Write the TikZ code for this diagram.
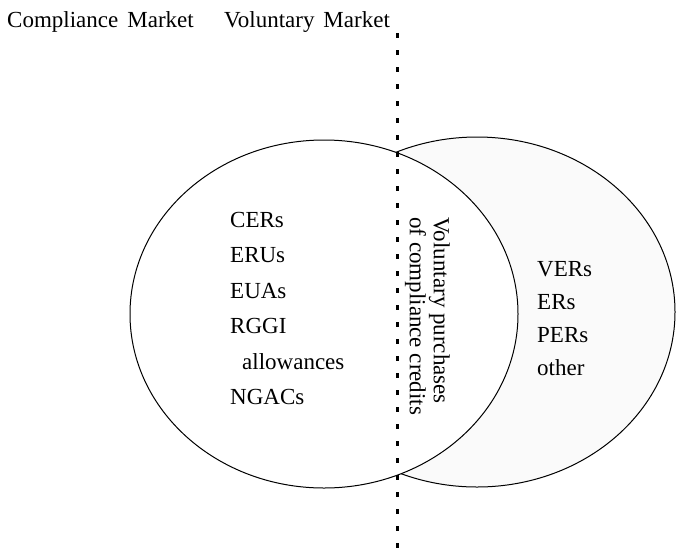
\documentclass[tikz,border=0pt]{standalone}
\usepackage{fontspec}
\setmainfont{Liberation Serif}
\usetikzlibrary{shapes.geometric}
\begin{document}
\begin{tikzpicture}[x=1pt,y=-1pt,
  market/.style={ellipse,draw=black,line width=1pt,inner sep=0pt},
  label/.style={font=\fontsize{23}{35.5}\selectfont,inner sep=0pt},
  listtext/.style={label,align=left,anchor=north west},
  divider/.style={line width=3pt,dash pattern=on 5pt off 12pt}]
\useasboundingbox (0,0) rectangle (679,555);

% headings
\node[label,anchor=base west] (comp) at (7,27) {Compliance\hspace{9pt}Market};
\node[label,anchor=base west] (vol) at (224,27) {Voluntary\hspace{9pt}Market};

% voluntary market (crescent shows through on the right)
\node[market,fill=black!2,minimum width=396pt,minimum height=350pt] (voluntary) at (477,312) {};
% compliance market drawn on top
\node[market,fill=white,minimum width=388pt,minimum height=348pt] (compliance) at (324,314) {};

% dividing line between the two markets
\coordinate (top) at (397,33);
\coordinate (bottom) at (397,548);
\draw[divider] (top) -- (bottom);

% compliance instruments
\node[listtext] (clist) at (230,212) {CERs\\ERUs\\EUAs\\RGGI\\\hspace*{12pt}allowances\\NGACs};

% voluntary instruments
\node[listtext,font=\fontsize{23}{33}\selectfont] (vlist) at (537,261) {VERs\\ERs\\PERs\\other};

% overlap label
\node[label,font=\fontsize{23}{24}\selectfont,align=left,rotate=-90,anchor=north west] (overlap) at (450,217)
  {Voluntary purchases\\of compliance credits};
\end{tikzpicture}
\end{document}
